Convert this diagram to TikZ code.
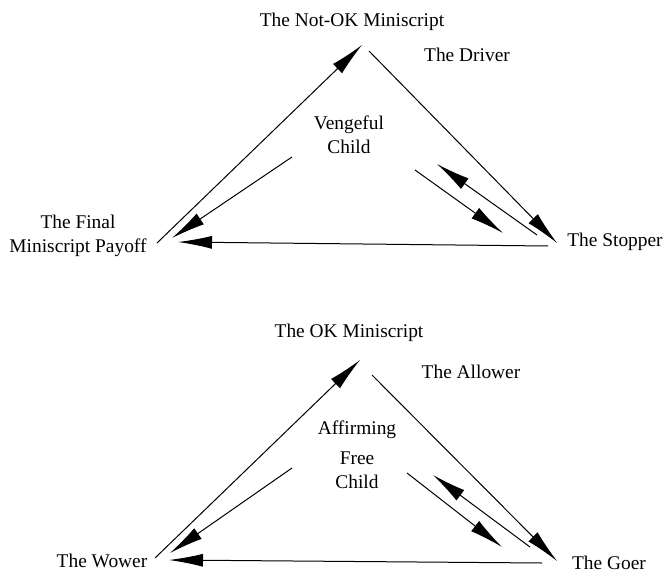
\documentclass[tikz,border=0pt]{standalone}
\usepackage{fontspec}
\setmainfont{Liberation Serif}
\usetikzlibrary{arrows.meta}
\usetikzlibrary{positioning}

\begin{document}
\begin{tikzpicture}[x=0.5pt,y=-0.5pt,-{Latex[length=17pt,width=6.5pt]},line width=0.5pt,font=\fontsize{9.7}{12}\selectfont]
	\tikzstyle{lbl}=[inner sep=0pt, align=center]
	\useasboundingbox (0,0) rectangle (668,572);

	% top triangle
	\node[lbl] (notok)   at (352,22)  {The Not-OK Miniscript};
	\node[lbl] (driver)  at (467,55)  {The Driver};
	\node[lbl] (veng)    at (349,135) {Vengeful\\Child};
	\node[lbl] (payoff)  at (78,236)  {The Final\\Miniscript Payoff};
	\node[lbl] (stopper) at (615,242) {The Stopper};
	\coordinate (a1) at (157,243);	\coordinate (a2) at (362,45);
	\coordinate (b1) at (369,51);	\coordinate (b2) at (557,243);
	\coordinate (c1) at (548,246);	\coordinate (c2) at (178,242);
	\coordinate (d1) at (292,157);	\coordinate (d2) at (172,238);
	\coordinate (e1) at (415,170);	\coordinate (e2) at (503,233);
	\coordinate (f1) at (537,235);	\coordinate (f2) at (437,164);
	\path
		(a1) edge (a2)
		(b1) edge (b2)
		(c1) edge (c2)
		(d1) edge (d2)
		(e1) edge (e2)
		(f1) edge (f2);

	% bottom triangle
	\node[lbl] (ok)      at (349,333) {The OK Miniscript};
	\node[lbl] (allower) at (471,372) {The Allower};
	\node[lbl] (free)    at (357,455) {Affirming\\[3pt]Free\\Child};
	\node[lbl] (wower)   at (102,561) {The Wower};
	\node[lbl] (goer)    at (609,563) {The Goer};
	\coordinate (g1) at (155,558);	\coordinate (g2) at (360,360);
	\coordinate (h1) at (372,375);	\coordinate (h2) at (557,561);
	\coordinate (i1) at (542,563);	\coordinate (i2) at (169,560);
	\coordinate (j1) at (292,468);	\coordinate (j2) at (170,553);
	\coordinate (k1) at (407,473);	\coordinate (k2) at (502,547);
	\coordinate (l1) at (530,547);	\coordinate (l2) at (433,475);
	\path
		(g1) edge (g2)
		(h1) edge (h2)
		(i1) edge (i2)
		(j1) edge (j2)
		(k1) edge (k2)
		(l1) edge (l2);
\end{tikzpicture}
\end{document}
